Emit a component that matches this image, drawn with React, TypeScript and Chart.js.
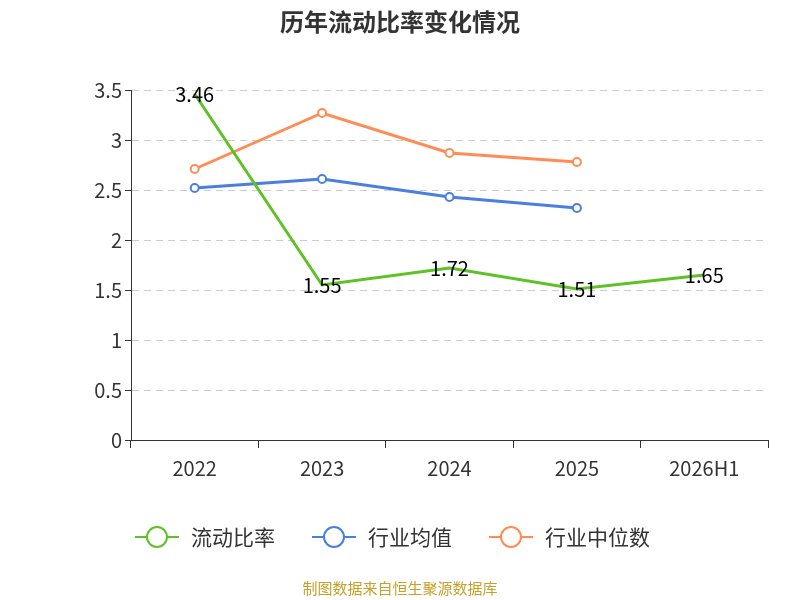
import React, { useEffect, useRef } from "react";
import { Chart, registerables } from "chart.js";
Chart.register(...registerables);

const categories = ["2022", "2023", "2024", "2025", "2026H1"];
const ratio = [3.46, 1.55, 1.72, 1.51, 1.65];
const industryAvg = [2.52, 2.61, 2.43, 2.32, null];
const industryMedian = [2.71, 3.27, 2.87, 2.78, null];
const seriesNames = ["流动比率", "行业均值", "行业中位数"];
const colors = ["#5ec226", "#4a7fe0", "#ff8c55"];
const FONT = "'Noto Sans CJK SC', 'Noto Sans', sans-serif";

export default function App() {
  const ref = useRef<HTMLCanvasElement>(null);
  useEffect(() => {
    const deco = {
      id: "deco",
      afterDraw(chart: any) {
        const ctx = chart.ctx;
        ctx.save();
        ctx.fillStyle = "#333";
        ctx.font = `bold 24px ${FONT}`;
        ctx.textAlign = "center";
        ctx.textBaseline = "middle";
        ctx.fillText("历年流动比率变化情况", 400, 22);
        const meta = chart.getDatasetMeta(0);
        ctx.fillStyle = "#000";
        ctx.font = `20px ${FONT}`;
        meta.data.forEach((p: any, i: number) => {
          ctx.fillText(String(ratio[i].toFixed(2)), p.x, p.y);
        });
        const xs = [135, 312, 489];
        ctx.font = `21px ${FONT}`;
        ctx.textAlign = "left";
        xs.forEach((x, i) => {
          const y = 537;
          ctx.strokeStyle = colors[i];
          ctx.lineWidth = 2;
          ctx.beginPath();
          ctx.moveTo(x, y);
          ctx.lineTo(x + 44, y);
          ctx.stroke();
          ctx.beginPath();
          ctx.arc(x + 22, y, 10, 0, Math.PI * 2);
          ctx.fillStyle = "#fff";
          ctx.fill();
          ctx.stroke();
          ctx.fillStyle = "#333";
          ctx.fillText(seriesNames[i], x + 56, y);
        });
        ctx.textAlign = "center";
        ctx.font = `15px ${FONT}`;
        ctx.fillStyle = "#c9a02a";
        ctx.fillText("制图数据来自恒生聚源数据库", 400, 588);
        ctx.restore();
      },
    };
    const mk = (i: number, data: any[], r: number) => ({
      label: seriesNames[i],
      data,
      borderColor: colors[i],
      backgroundColor: "#fff",
      borderWidth: 3,
      pointRadius: r,
      pointBorderWidth: 2,
      pointBackgroundColor: "#fff",
      pointBorderColor: colors[i],
      tension: 0,
    });
    const chart = new Chart(ref.current!, {
      type: "line",
      data: {
        labels: categories,
        datasets: [mk(0, ratio, 0), mk(1, industryAvg, 4), mk(2, industryMedian, 4)],
      },
      plugins: [deco],
      options: {
        animation: false,
        responsive: false,
        layout: { padding: { top: 90, left: 81, right: 32, bottom: 116 } },
        plugins: { legend: { display: false }, tooltip: { enabled: false } },
        scales: {
          x: {
            offset: true,
            afterFit: (s: any) => { s.height = 44; },
            grid: { display: true, drawOnChartArea: false, offset: true, color: "#333", tickLength: 8 },
            border: { color: "#333" },
            ticks: { color: "#333", padding: 8, font: { size: 20, family: FONT } },
          },
          y: {
            min: 0, max: 3.5,
            afterFit: (s: any) => { s.width = 50; },
            ticks: { stepSize: 0.5, color: "#333", font: { size: 20, family: FONT }, callback: (v: any) => String(v) },
            grid: { color: "#ccc", tickLength: 6, tickColor: "#333" },
            border: { color: "#333", dash: [7, 5] },
          },
        },
      },
    });
    return () => chart.destroy();
  }, []);
  return (
    <div style={{ position: "fixed", left: 0, top: 0, width: 800, height: 600, background: "#fff" }}>
      <canvas ref={ref} width={800} height={600} />
    </div>
  );
}
